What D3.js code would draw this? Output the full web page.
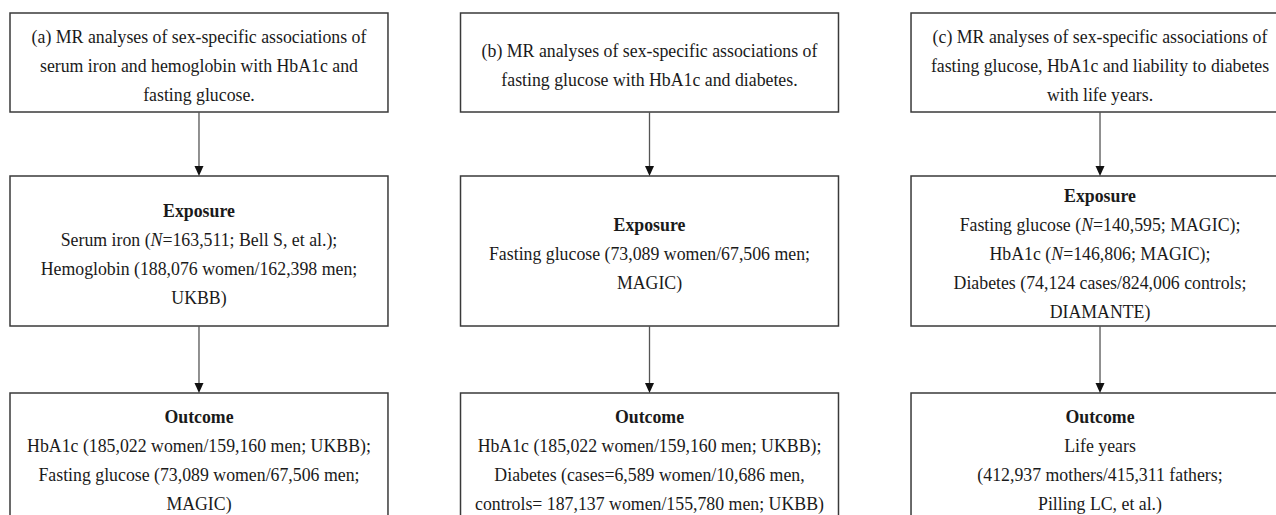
<!DOCTYPE html>
<html><head><meta charset="utf-8">
<script src="https://cdn.jsdelivr.net/npm/d3@7"></script>
<style>html,body{margin:0;padding:0;background:#fff;overflow:hidden}</style>
</head><body>
<svg id="c" width="1276" height="515"></svg>
<script>
// Panel ids
const panels = ["a", "b", "c"];
// Title box lines (italic segments wrapped in *)
const titleLines = [
  ["(a) MR analyses of sex-specific associations of", "serum iron and hemoglobin with HbA1c and", "fasting glucose."],
  ["(b) MR analyses of sex-specific associations of", "fasting glucose with HbA1c and diabetes."],
  ["(c) MR analyses of sex-specific associations of", "fasting glucose, HbA1c and liability to diabetes", "with life years."]
];
const exposureHeader = "Exposure";
const exposureLines = [
  ["Serum iron (*N*=163,511; Bell S, et al.);", "Hemoglobin (188,076 women/162,398 men;", "UKBB)"],
  ["Fasting glucose (73,089 women/67,506 men;", "MAGIC)"],
  ["Fasting glucose (*N*=140,595; MAGIC);", "HbA1c (*N*=146,806; MAGIC);", "Diabetes (74,124 cases/824,006 controls;", "DIAMANTE)"]
];
const outcomeHeader = "Outcome";
const outcomeLines = [
  ["HbA1c (185,022 women/159,160 men; UKBB);", "Fasting glucose (73,089 women/67,506 men;", "MAGIC)"],
  ["HbA1c (185,022 women/159,160 men; UKBB);", "Diabetes (cases=6,589 women/10,686 men,", "controls= 187,137 women/155,780 men; UKBB)"],
  ["Life years", "(412,937 mothers/415,311 fathers;", "Pilling LC, et al.)"]
];

const svg = d3.select("#c");
const x = d3.scaleBand().domain(panels).range([10, 1289]).paddingInner(0.161).paddingOuter(0);
const rows = { title: [13, 112], exposure: [176, 326], outcome: [393, 560] };
const lineH = 29;
const font = "'Liberation Serif','Times New Roman',serif";
const stroke = "#3a3a3a";

function addLine(g, cx, y, str, bold) {
  const t = g.append("text").attr("x", cx).attr("y", y).attr("text-anchor", "middle")
    .attr("font-family", font).attr("font-size", 17.8).attr("fill", "#1a1a1a")
    .attr("font-weight", bold ? "bold" : "normal");
  str.split("*").forEach((seg, i) => {
    if (seg === "") return;
    t.append("tspan").text(seg).attr("font-style", i % 2 ? "italic" : "normal");
  });
}

function block(g, cx, yTop, lines) {
  lines.forEach((l, i) => addLine(g, cx, yTop + i * lineH, l.text, l.bold));
}

panels.forEach((p, i) => {
  const g = svg.append("g");
  const x0 = x(p), w = x.bandwidth(), cx = x0 + w / 2;
  // boxes
  Object.values(rows).forEach(([y0, y1]) => {
    g.append("rect").attr("x", x0).attr("y", y0).attr("width", w).attr("height", y1 - y0)
      .attr("fill", "none").attr("stroke", stroke).attr("stroke-width", 1.5);
  });
  // arrows
  [[rows.title[1], rows.exposure[0]], [rows.exposure[1], rows.outcome[0]]].forEach(([a, b]) => {
    g.append("line").attr("x1", cx).attr("x2", cx).attr("y1", a).attr("y2", b - 9)
      .attr("stroke", "#555").attr("stroke-width", 1.3);
    g.append("path").attr("d", `M${cx - 4.5},${b - 10}L${cx + 4.5},${b - 10}L${cx},${b}Z`).attr("fill", "#111");
  });
  // title text (vertically centered)
  const tl = titleLines[i].map(t => ({ text: t }));
  const tc = (rows.title[0] + rows.title[1]) / 2 + 3;
  block(g, cx, tc - (tl.length - 1) * lineH / 2 + 6, tl);
  // exposure text
  const el = [{ text: exposureHeader, bold: true }].concat(exposureLines[i].map(t => ({ text: t })));
  const ec = (rows.exposure[0] + rows.exposure[1]) / 2 + 3;
  block(g, cx, ec - (el.length - 1) * lineH / 2 + 6, el);
  // outcome text (top aligned)
  const ol = [{ text: outcomeHeader, bold: true }].concat(outcomeLines[i].map(t => ({ text: t })));
  block(g, cx, rows.outcome[0] + 30, ol);
});
</script>
</body></html>
